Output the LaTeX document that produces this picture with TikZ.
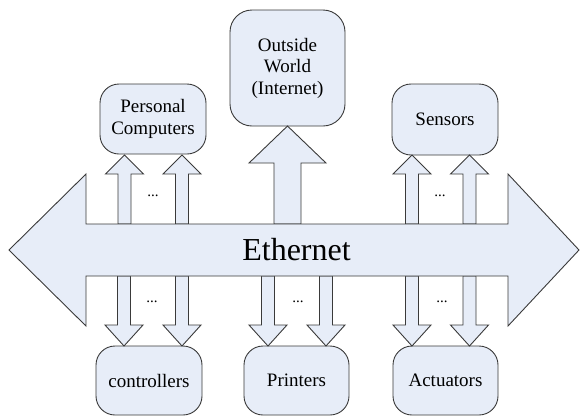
\documentclass[tikz,border=0pt]{standalone}
\usepackage{fontspec}
\setmainfont{Liberation Serif}
\newfontfamily\tnr{Liberation Serif}
\definecolor{boxfill}{HTML}{E7EDF8}
\definecolor{edge}{HTML}{3A3A3A}
\tikzset{
  blk/.style={fill=boxfill, draw=edge, line width=0.9pt, line join=miter},
  devbox/.style={blk, rounded corners=19pt, inner sep=0pt, align=center,
     font=\tnr\fontsize{19}{21.5}\selectfont},
  dots/.style={font=\tnr\fontsize{15}{15}\selectfont, inner sep=0pt}
}
% #1 x centre, #2 tail y, #3 tip y, #4 shaft half width, #5 head half width, #6 signed head length
\newcommand{\blkarrow}[6]{%
  \filldraw[blk] ({#1-#4},#2) -- ({#1-#4},{#3+#6}) -- ({#1-#5},{#3+#6}) -- (#1,#3)
    -- ({#1+#5},{#3+#6}) -- ({#1+#4},{#3+#6}) -- ({#1+#4},#2) -- cycle;}
\begin{document}
\begin{tikzpicture}[x=1pt,y=-1pt]
\useasboundingbox (0,0) rectangle (581,416);
% boxes
\node[devbox, minimum width=106pt, minimum height=70pt] (pc) at (153,119) {Personal\\Computers};
\node[devbox, rounded corners=22pt, minimum width=115pt, minimum height=116pt] (ow) at (287.5,68) {Outside\\World\\(Internet)};
\node[devbox, minimum width=106pt, minimum height=71pt] (sen) at (445,119.5) {Sensors};
\node[devbox, minimum width=106pt, minimum height=69pt] (ctl) at (149,380.5) {controllers};
\node[devbox, minimum width=105pt, minimum height=69pt] (prn) at (296.5,380.5) {Printers};
\node[devbox, minimum width=105pt, minimum height=69pt] (act) at (445.5,380.5) {Actuators};
% up arrows
\blkarrow{124.5}{224}{155}{6.5}{19}{19}
\blkarrow{182}{224}{155}{6.5}{19}{19}
\blkarrow{412}{224}{155}{6.5}{19}{19}
\blkarrow{469.5}{224}{155}{6.5}{19}{19}
\blkarrow{287.5}{224}{126}{13.5}{38.5}{37}
% down arrows
\blkarrow{124}{276}{346}{6.5}{19}{-21}
\blkarrow{182}{276}{346}{6.5}{19}{-21}
\blkarrow{268}{276}{346}{6.5}{19}{-21}
\blkarrow{326}{276}{346}{6.5}{19}{-21}
\blkarrow{412}{276}{346}{6.5}{19}{-21}
\blkarrow{469.5}{276}{346}{6.5}{19}{-21}
% ethernet double arrow
\filldraw[blk] (9,250) -- (86,174) -- (86,224) -- (508,224) -- (508,174) -- (579,250)
  -- (508,326) -- (508,276) -- (86,276) -- (86,326) -- cycle;
\node[font=\tnr\fontsize{32}{32}\selectfont, inner sep=0pt] (eth) at (296.5,250) {Ethernet};
% dots
\node[dots] (d1) at (153,196) {...};
\node[dots] (d2) at (440,196) {...};
\node[dots] (d3) at (152,302) {...};
\node[dots] (d4) at (298,302) {...};
\node[dots] (d5) at (442,302) {...};
\end{tikzpicture}
\end{document}
